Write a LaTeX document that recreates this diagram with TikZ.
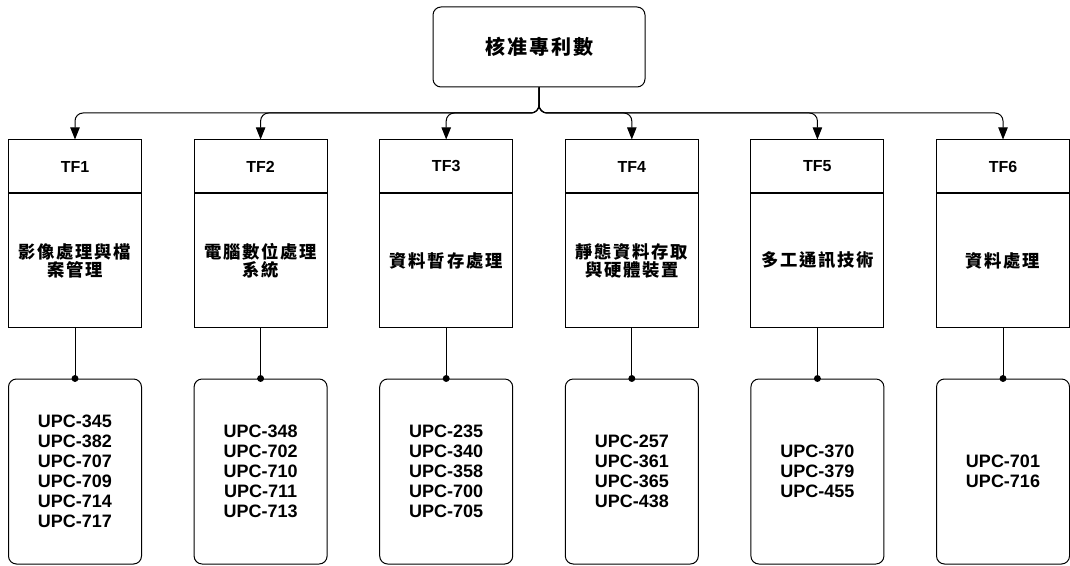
\documentclass[tikz,border=0pt]{standalone}
\usepackage{fontspec}
\setmainfont{Liberation Sans}
\newfontfamily\cjk[LetterSpace=10]{Noto Sans CJK TC}
\usetikzlibrary{positioning,arrows.meta}

\begin{document}
\begin{tikzpicture}[x=0.75pt,y=0.75pt,
  every node/.style={draw, line width=0.75pt, inner sep=0pt, align=center},
  head/.style={minimum width=133pt*0.75, minimum height=53pt*0.75, font=\fontsize{12}{14}\selectfont\bfseries},
  field/.style={minimum width=133pt*0.75, minimum height=133pt*0.75, font=\fontsize{13}{13.5}\selectfont\cjk\bfseries},
  codes/.style={rounded corners=6pt, minimum width=133pt*0.75, minimum height=185pt*0.75, font=\fontsize{13.5}{15}\selectfont\bfseries},
  link/.style={draw, line width=0.75pt, rounded corners=6pt, -{Triangle[length=9pt,width=7pt]}}]
  \useasboundingbox (0,0) rectangle (1070,565);

  \node[rounded corners=6pt, minimum width=212pt*0.75, minimum height=80pt*0.75,
        font=\fontsize{15}{16}\selectfont\cjk\bfseries] (top) at (539,518) {核准專利數};
  \coordinate (bus) at (0,452);

  \foreach \i/\field/\ids in {
      1/{影像處理與檔\\案管理}/{UPC-345\\UPC-382\\UPC-707\\UPC-709\\UPC-714\\UPC-717},
      2/{電腦數位處理\\系統}/{UPC-348\\UPC-702\\UPC-710\\UPC-711\\UPC-713},
      3/{資料暫存處理}/{UPC-235\\UPC-340\\UPC-358\\UPC-700\\UPC-705},
      4/{靜態資料存取\\與硬體裝置}/{UPC-257\\UPC-361\\UPC-365\\UPC-438},
      5/{多工通訊技術}/{UPC-370\\UPC-379\\UPC-455},
      6/{資料處理}/{UPC-701\\UPC-716}}{
    \node[head] (tf\i) at ({75+185.6*(\i-1)},398.5) {TF\i};
    \node[field, below=0pt of tf\i] (area\i) {\field};
    \node[codes] (upc\i) at ({75+185.6*(\i-1)},93.5) {\ids};
    \draw[link] (top.south) -- (top.south |- bus) -| (tf\i.north);
    \draw[line width=0.75pt] (area\i.south) -- (upc\i.north);
    \fill (upc\i.north) circle (2.6pt);
  }
\end{tikzpicture}
\end{document}
